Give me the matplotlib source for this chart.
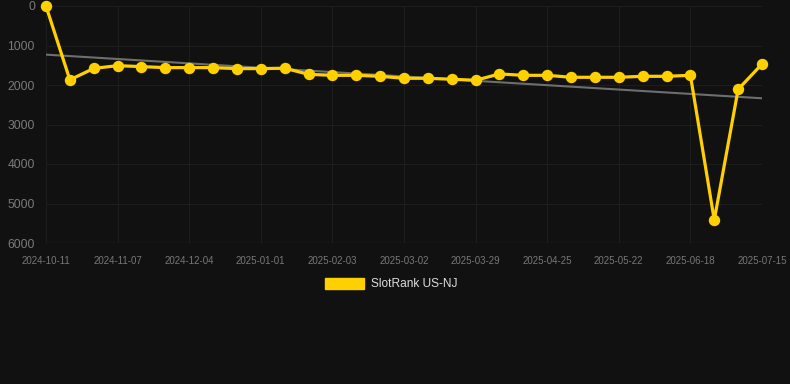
import matplotlib.pyplot as plt
import numpy as np
from matplotlib.patches import Patch

plt.rcParams['font.family'] = ['Liberation Sans', 'DejaVu Sans']

# Ранги по датам (ось категорий, подпись у каждой третьей точки)
tick_labels = ['2024-10-11', '2024-11-07', '2024-12-04', '2025-01-01', '2025-02-03',
               '2025-03-02', '2025-03-29', '2025-04-25', '2025-05-22', '2025-06-18',
               '2025-07-15']
rank = [1, 1870, 1580, 1510, 1535, 1560, 1560, 1560, 1585, 1585, 1575,
        1730, 1755, 1755, 1780, 1830, 1830, 1855, 1880, 1720, 1755, 1755,
        1805, 1805, 1805, 1780, 1780, 1755, 5420, 2110, 1470]
series_name = 'SlotRank US-NJ'

bg = '#111111'
yellow = '#FFD000'

x = np.arange(len(rank))
k, b = np.polyfit(x, rank, 1)

fig = plt.figure(figsize=(7.9, 3.84), dpi=100, facecolor=bg)
ax = fig.add_axes([46 / 790, 1 - 243 / 384, 716 / 790, 237 / 384])
ax.set_facecolor(bg)

ax.plot(x, k * x + b, color='#6e6e6e', lw=1.5, zorder=2)
ax.plot(x, rank, color=yellow, lw=2.3, marker='o', ms=7.2,
        clip_on=False, zorder=3)

ax.set_xlim(0, len(rank) - 1)
ax.set_ylim(6000, 0)
ax.set_yticks(range(0, 6001, 1000))
ax.set_xticks(x[::3])
ax.set_xticklabels(tick_labels)

ax.grid(True, color='#1d1d1d', lw=0.8)
ax.set_axisbelow(True)
for s in ax.spines.values():
    s.set_visible(False)
ax.axhline(6000, color='#2a2a2a', lw=1, zorder=1)
ax.tick_params(axis='x', colors='#777777', labelsize=7, length=0, pad=9)
ax.tick_params(axis='y', colors='#7a7a7a', labelsize=8.7, length=0, pad=8)

handle = Patch(facecolor=yellow, edgecolor=yellow)
fig.legend([handle], [series_name], loc='center', bbox_to_anchor=(0.495, 0.26),
           frameon=False, fontsize=8.6, labelcolor='#dddddd',
           handlelength=3.3, handleheight=1.0, handletextpad=0.6)

fig.savefig('out.png', facecolor=bg)
